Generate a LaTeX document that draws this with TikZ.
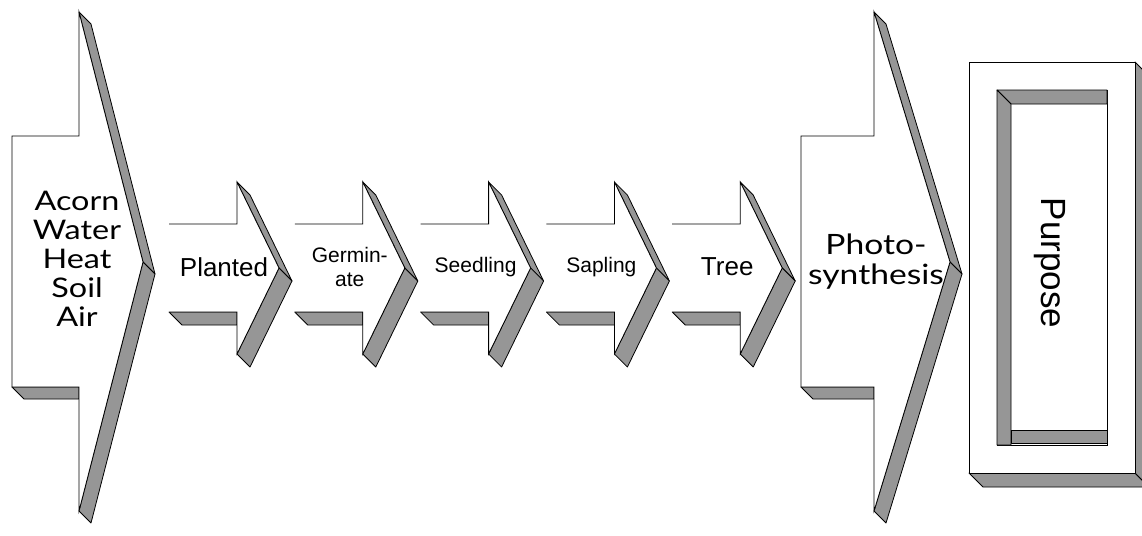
\documentclass[tikz,border=0pt]{standalone}
\usepackage{fontspec}
\setmainfont{Liberation Sans}
\newfontfamily\gill{Lato}
\usepackage{graphicx}
\definecolor{bevel}{RGB}{150,150,150}
\newcommand{\stretchline}[1]{\scalebox{1.2}[1]{#1}}
\tikzset{
  side/.style={fill=bevel, draw=black, line width=0.8pt, line join=round},
  face/.style={draw=black, line width=0.8pt, line join=miter},
  gilltext/.style={align=center, inner sep=0pt, font=\gill\fontsize{27}{29}\selectfont},
  photostyle/.style={align=center, inner sep=0pt, font=\gill\fontsize{28}{30}\selectfont},
  arialbig/.style={align=center, inner sep=0pt, font=\fontsize{26}{28}\selectfont},
  arialsmall/.style={align=center, inner sep=0pt, font=\fontsize{21}{24}\selectfont},
}
% grey side faces of a 3D chevron arrow
% #1 L, #2 N(neck), #3 T(tip), #4 Yt(top), #5 St(shaft top), #6 Sb(shaft bottom), #7 Yb(bottom), #8 Yc(centre), #9 depth
\newcommand{\chevsides}[9]{%
  \filldraw[side] (#1,#6) -- (#2,#6) -- (#2,{#6+#9}) -- ({#1+#9},{#6+#9}) -- cycle;
  \filldraw[side] (#2,#4) -- (#3,#8) -- ({#3+#9},{#8+#9}) -- ({#2+#9},{#4+#9}) -- cycle;
  \filldraw[side] (#3,#8) -- (#2,#7) -- ({#2+#9},{#7+#9}) -- ({#3+#9},{#8+#9}) -- cycle;
}
\newcommand{\chevfill}[8]{%
  \fill[white] (#1,#5) -- (#2,#5) -- (#2,#4) -- (#3,#8) -- (#2,#7) -- (#2,#6) -- (#1,#6) -- cycle;
}
\begin{document}
\begin{tikzpicture}[x=1pt,y=-1pt]
\useasboundingbox (0,0) rectangle (1142,535);
\fill[white] (0,0) rectangle (1142,535);

% ---- big input arrow
\chevsides{12}{79}{143}{12}{136}{387}{511}{262}{12}
\chevfill{12}{79}{143}{12}{136}{387}{511}{262}
\draw[face] (12,136) -- (79,136) -- (79,12) -- (143,262) -- (79,511) -- (79,387) -- (12,387) -- cycle;
\node[gilltext] (inputs) at (77,259) {\stretchline{Acorn}\\\stretchline{Water}\\\stretchline{Heat}\\\stretchline{Soil}\\\stretchline{Air}};

% ---- small arrows
\foreach \L/\nm/\txt/\sty in {169/planted/Planted/arialbig, 294.8/germ/Germin-\\ate/arialsmall, 420.6/seed/Seedling/arialsmall, 546.4/sap/Sapling/arialsmall, 672.2/tree/Tree/arialbig}{
  \pgfmathsetmacro\N{\L+68}
  \pgfmathsetmacro\T{\L+110}
  \pgfmathsetmacro\C{\L+55}
  \chevsides{\L}{\N}{\T}{182}{224}{312}{354}{268}{13}
  \chevfill{\L}{\N}{\T}{182}{224}{312}{354}{268}
  \draw[face] (\L,224) -- (\N,224) -- (\N,182) -- (\T,268) -- (\N,354) -- (\N,312) -- (\L,312);
  \node[\sty] (\nm) at (\C,267) {\txt};
}

% ---- photosynthesis arrow
\chevsides{801}{874}{950}{12}{136}{387}{511}{262}{12}
\chevfill{801}{874}{950}{12}{136}{387}{511}{262}
\draw[face] (801,136) -- (874,136) -- (874,12) -- (950,262) -- (874,511) -- (874,387) -- (801,387) -- cycle;
\node[photostyle] (photo) at (876,262) {\stretchline{Photo-}\\\stretchline{synthesis}};

% ---- purpose box
\filldraw[side] (969,473) -- (1135,473) -- (1149,487) -- (983,487) -- cycle;
\filldraw[side] (1135,62) -- (1149,76) -- (1149,487) -- (1135,473) -- cycle;
\filldraw[face, fill=white] (969,62) rectangle (1135,473);
\draw[face, fill=white] (997,90) rectangle (1107,445);
\filldraw[side] (997,90) -- (1107,90) -- (1107,104) -- (1011,104) -- cycle;
\filldraw[side] (997,90) -- (1011,104) -- (1011,445) -- (997,445) -- cycle;
\filldraw[side] (1011,430) -- (1107,430) -- (1107,443) -- (1011,443) -- cycle;
\node[inner sep=0pt, rotate=-90, font=\fontsize{35}{38}\selectfont] (purpose) at (1050,263) {Purpose};
\end{tikzpicture}
\end{document}
